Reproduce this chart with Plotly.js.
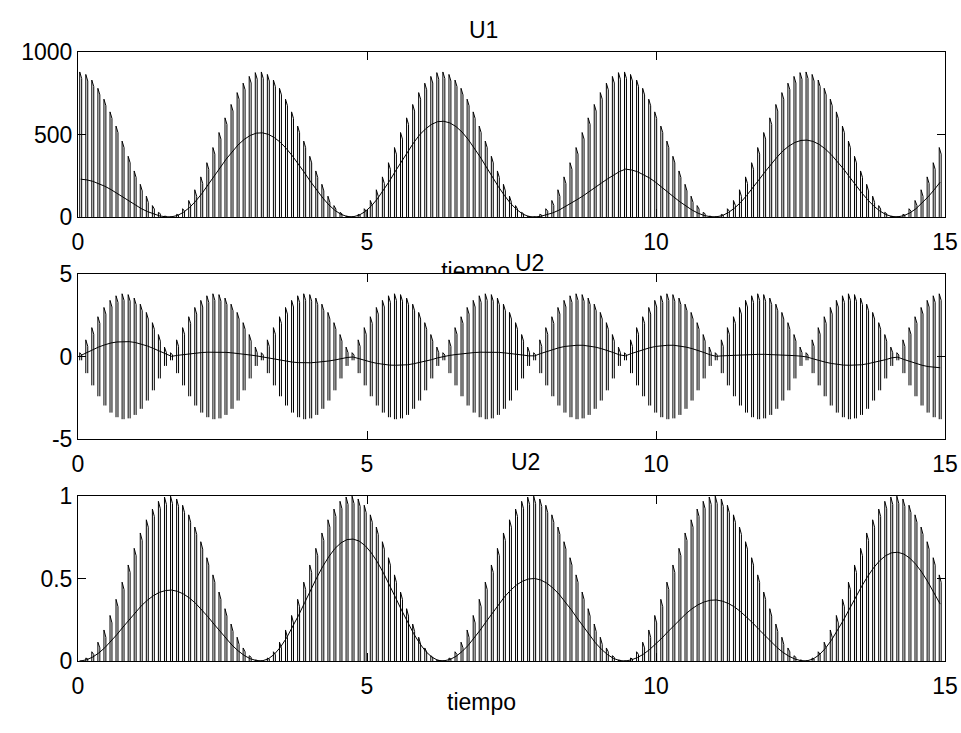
<!DOCTYPE html>
<html>
<head>
<meta charset="utf-8">
<script src="https://cdn.plot.ly/plotly-3.0.1.min.js"></script>
<style>html,body{margin:0;padding:0;background:#fff;}#chart{width:961px;height:733px;}</style>
</head>
<body>
<div id="chart"></div>
<script>
// sample times (s)
const t = [0.030,0.135,0.239,0.344,0.449,0.554,0.658,0.763,0.868,0.972,
1.077,1.182,1.287,1.391,1.496,1.601,1.706,1.810,1.915,2.020,
2.124,2.229,2.334,2.439,2.543,2.648,2.753,2.857,2.962,3.067,
3.172,3.276,3.381,3.486,3.590,3.695,3.800,3.905,4.009,4.114,
4.219,4.324,4.428,4.533,4.638,4.742,4.847,4.952,5.057,5.161,
5.266,5.371,5.475,5.580,5.685,5.790,5.894,5.999,6.104,6.208,
6.313,6.418,6.523,6.627,6.732,6.837,6.941,7.046,7.151,7.256,
7.360,7.465,7.570,7.675,7.779,7.884,7.989,8.093,8.198,8.303,
8.408,8.512,8.617,8.722,8.826,8.931,9.036,9.141,9.245,9.350,
9.455,9.559,9.664,9.769,9.874,9.978,10.083,10.188,10.292,10.397,
10.502,10.607,10.711,10.816,10.921,11.025,11.130,11.235,11.340,11.444,
11.549,11.654,11.759,11.863,11.968,12.073,12.177,12.282,12.387,12.492,
12.596,12.701,12.806,12.910,13.015,13.120,13.225,13.329,13.434,13.539,
13.644,13.748,13.853,13.958,14.062,14.167,14.272,14.377,14.481,14.586,
14.691,14.796,14.900];

// U1: peak value of each oscillation and the inner (aliased) level
const u1Top = [879,864,830,780,714,637,551,460,368,279,198,126,69,28,5,1,16,50,100,165,243,329,421,512,601,682,754,811,852,875,
879,864,830,780,714,637,551,460,368,279,198,126,69,28,5,1,16,50,100,165,243,329,421,512,601,682,754,811,852,875,
879,864,830,780,714,637,551,460,368,279,198,126,69,28,5,1,16,50,100,165,243,329,421,512,601,682,754,811,852,875,
879,864,830,780,714,637,551,460,368,279,198,126,69,28,5,1,16,50,100,165,243,329,421,512,601,682,754,811,852,875,
879,864,830,780,714,637,551,460,368,279,198,126,69,28,5,1,16,50,100,165,243,329,421];
const u1Mid = [229,225,216,203,186,166,143,120,96,73,51,33,18,7,1,
1,9,29,58,96,141,191,244,297,349,396,437,470,494,508,
510,501,481,452,414,369,320,267,213,162,115,73,40,16,3,
1,11,33,66,109,160,217,278,338,397,450,498,535,562,578,
580,570,548,515,471,420,364,304,243,184,131,83,46,18,3,
0,4,13,25,41,61,82,105,128,155,180,205,230,255,275,
290,285,274,257,236,210,182,152,121,92,65,42,23,9,2,
1,8,27,53,87,129,174,223,271,319,361,400,430,452,464,
466,458,440,413,378,338,292,244,195,148,105,67,37,15,3,
1,8,25,50,83,122,165,211];

// U2 (middle panel): oscillation amplitude and inner level
const u2Amp = [0.23,1.01,1.75,2.41,2.97,3.40,3.68,3.80,3.75,3.54,3.17,2.67,2.05,1.33,0.57,
0.23,1.01,1.75,2.41,2.97,3.40,3.68,3.80,3.75,3.54,3.17,2.67,2.05,1.33,0.57,
0.23,1.01,1.75,2.41,2.97,3.40,3.68,3.80,3.75,3.54,3.17,2.67,2.05,1.33,0.57,
0.23,1.01,1.75,2.41,2.97,3.40,3.68,3.80,3.75,3.54,3.17,2.67,2.05,1.33,0.57,
0.23,1.01,1.75,2.41,2.97,3.40,3.68,3.80,3.75,3.54,3.17,2.67,2.05,1.33,0.57,
0.23,1.01,1.75,2.41,2.97,3.40,3.68,3.80,3.75,3.54,3.17,2.67,2.05,1.33,0.57,
0.23,1.01,1.75,2.41,2.97,3.40,3.68,3.80,3.75,3.54,3.17,2.67,2.05,1.33,0.57,
0.23,1.01,1.75,2.41,2.97,3.40,3.68,3.80,3.75,3.54,3.17,2.67,2.05,1.33,0.57,
0.23,1.01,1.75,2.41,2.97,3.40,3.68,3.80,3.75,3.54,3.17,2.67,2.05,1.33,0.57,
0.23,1.01,1.75,2.41,2.97,3.40,3.68,3.80];
const u2Mid = [0.06,0.24,0.42,0.58,0.71,0.82,0.88,0.91,0.90,0.85,0.76,0.64,0.49,0.32,0.14,
0.01,0.07,0.12,0.17,0.21,0.24,0.26,0.27,0.26,0.25,0.22,0.19,0.14,0.09,0.04,
-0.02,-0.10,-0.18,-0.24,-0.30,-0.34,-0.37,-0.38,-0.38,-0.35,-0.32,-0.27,-0.21,-0.13,-0.06,
-0.03,-0.14,-0.25,-0.34,-0.42,-0.48,-0.52,-0.53,-0.53,-0.50,-0.44,-0.37,-0.29,-0.19,-0.08,
0.01,0.07,0.12,0.17,0.21,0.24,0.26,0.27,0.26,0.25,0.22,0.19,0.14,0.09,0.04,
0.04,0.18,0.31,0.43,0.53,0.61,0.66,0.68,0.68,0.64,0.57,0.48,0.37,0.24,0.10,
0.04,0.18,0.31,0.43,0.53,0.61,0.66,0.68,0.68,0.64,0.57,0.48,0.37,0.24,0.10,
0.01,0.04,0.06,0.08,0.10,0.12,0.13,0.13,0.13,0.12,0.11,0.09,0.07,0.05,0.02,
-0.03,-0.14,-0.25,-0.34,-0.42,-0.48,-0.52,-0.53,-0.53,-0.50,-0.44,-0.37,-0.29,-0.19,-0.08,
-0.04,-0.18,-0.31,-0.43,-0.53,-0.61,-0.66,-0.68];

// U2 (bottom panel): peak value of each oscillation and inner level
const u3Top = [0.001,0.018,0.056,0.114,0.188,0.276,0.374,0.478,0.582,0.683,0.776,0.856,0.921,0.968,0.994,0.999,0.982,0.944,0.886,0.812,0.723,0.626,0.522,0.418,0.317,0.224,0.144,0.079,0.032,0.006,
0.001,0.018,0.056,0.114,0.188,0.276,0.374,0.478,0.582,0.683,0.776,0.856,0.921,0.968,0.994,0.999,0.982,0.944,0.886,0.812,0.723,0.626,0.522,0.418,0.317,0.224,0.144,0.079,0.032,0.006,
0.001,0.018,0.056,0.114,0.188,0.276,0.374,0.478,0.582,0.683,0.776,0.856,0.921,0.968,0.994,0.999,0.982,0.944,0.886,0.812,0.723,0.626,0.522,0.418,0.317,0.224,0.144,0.079,0.032,0.006,
0.001,0.018,0.056,0.114,0.188,0.276,0.374,0.478,0.582,0.683,0.776,0.856,0.921,0.968,0.994,0.999,0.982,0.944,0.886,0.812,0.723,0.626,0.522,0.418,0.317,0.224,0.144,0.079,0.032,0.006,
0.001,0.018,0.056,0.114,0.188,0.276,0.374,0.478,0.582,0.683,0.776,0.856,0.921,0.968,0.994,0.999,0.982,0.944,0.886,0.812,0.723,0.626,0.522];
const u3Mid = [0.000,0.008,0.024,0.049,0.081,0.119,0.161,0.206,0.250,0.294,0.334,0.368,0.396,0.416,0.427,0.430,0.422,0.406,0.381,0.349,0.311,0.269,0.224,0.180,0.136,0.096,0.062,0.034,0.014,0.003,
0.001,0.013,0.041,0.084,0.139,0.204,0.277,0.354,0.431,0.505,0.574,0.633,0.682,0.716,0.736,0.739,0.727,0.699,0.656,0.601,0.535,0.463,0.386,0.309,0.235,0.166,0.107,0.058,0.024,0.004,
0.001,0.009,0.028,0.057,0.094,0.138,0.187,0.239,0.291,0.342,0.388,0.428,0.461,0.484,0.497,0.500,0.491,0.472,0.443,0.406,0.362,0.313,0.261,0.209,0.159,0.112,0.072,0.040,0.016,0.003,
0.000,0.007,0.021,0.042,0.070,0.102,0.138,0.177,0.215,0.253,0.287,0.317,0.341,0.358,0.368,0.370,0.363,0.349,0.328,0.300,0.268,0.232,0.193,0.155,0.117,0.083,0.053,0.029,0.012,0.002,
0.001,0.012,0.037,0.075,0.124,0.182,0.247,0.315,0.384,0.451,0.512,0.565,0.608,0.639,0.656,0.659,0.648,0.623,0.585,0.536,0.477,0.413,0.345];

const titles = ['U1', 'U2', 'U2'];
const xLabel = 'tiempo';
const xTicks = [0, 5, 10, 15];

// ---- build polylines from the data ----
// each oscillation: up-stroke to its peak, slanted tip, parallel down-stroke (separate per oscillation)
const dt = t[1] - t[0];
function strokes(top, symmetric, tip) {
  const x = [], y = [];
  const n = Math.min(t.length, top.length);
  for (let k = 0; k < n; k++) {
    const lo = symmetric ? -top[k] : 0;
    const tp = top[k] - Math.min(tip, (top[k] - lo) * 0.3);
    x.push(t[k], t[k], t[k] + 0.32 * dt, t[k] + 0.32 * dt, null);
    y.push(lo, top[k], tp, lo, null);
  }
  return {x, y};
}
// inner level, drawn through the middle of each oscillation
function inner(mid) {
  const n = Math.min(t.length, mid.length);
  return {x: t.slice(0, n).map(v => v + 0.16 * dt), y: mid.slice(0, n)};
}
const s1 = strokes(u1Top, false, 40), m1 = inner(u1Mid);
const s2 = strokes(u2Amp, true, 0.4), m2 = inner(u2Mid);
const s3 = strokes(u3Top, false, 0.045), m3 = inner(u3Mid);
const lineStyle = {color: '#000', width: 1};
const innerStyle = {color: '#000', width: 1};
const fam = 'Liberation Sans, Arial, Helvetica, sans-serif';
const font = {family: fam, size: 23, color: '#000'};
function tr(s, xa, ya, st) {
  return {type: 'scatter', mode: 'lines', x: s.x, y: s.y, xaxis: xa, yaxis: ya, line: st,
    connectgaps: false, hoverinfo: 'skip'};
}
const traces = [
  tr(s1, 'x', 'y', lineStyle), tr(m1, 'x', 'y', innerStyle),
  tr(s2, 'x2', 'y2', lineStyle), tr(m2, 'x2', 'y2', innerStyle),
  tr(s3, 'x3', 'y3', lineStyle), tr(m3, 'x3', 'y3', innerStyle),
  // x label of top panel, partially hidden by the middle panel (clipped)
  {type: 'scatter', mode: 'text', x: [6.88], y: [0.5], text: [xLabel], xaxis: 'x4', yaxis: 'y4',
   textfont: font, textposition: 'middle center', cliponaxis: true, hoverinfo: 'skip'}
];

function xax(anchor) {
  return {anchor: anchor, domain: [0, 1], range: [0, 15], tickvals: xTicks, ticktext: xTicks.map(String),
    showline: true, mirror: 'ticks', linecolor: '#000', linewidth: 1, ticks: 'inside', ticklen: 8,
    tickcolor: '#000', showgrid: false, zeroline: false, tickfont: font, ticklabelstandoff: 4, fixedrange: true};
}
function yax(anchor, dom, rng, vals, txt) {
  return {anchor: anchor, domain: dom, range: rng, tickvals: vals, ticktext: txt,
    showline: true, mirror: 'ticks', linecolor: '#000', linewidth: 1, ticks: 'inside', ticklen: 8,
    tickcolor: '#000', showgrid: false, zeroline: false, tickfont: font, fixedrange: true};
}

const layout = {
  width: 961, height: 733, autosize: false,
  margin: {l: 78, r: 16, t: 52, b: 72, pad: 0},
  paper_bgcolor: '#fff', plot_bgcolor: '#fff',
  showlegend: false, font: font,
  xaxis: xax('y'),
  yaxis: yax('x', [0.7291, 1], [0, 1000], [0, 500, 1000], ['0', '500', '1000']),
  xaxis2: xax('y2'),
  yaxis2: yax('x2', [0.3645, 0.6355], [-5, 5], [-5, 0, 5], ['-5', '0', '5']),
  xaxis3: xax('y3'),
  yaxis3: yax('x3', [0, 0.2709], [0, 1], [0, 0.5, 1], ['0', '0.5', '1']),
  xaxis4: {anchor: 'y4', domain: [0, 1], range: [0, 15], visible: false, fixedrange: true},
  yaxis4: {anchor: 'x4', domain: [0.6355, 0.7291], range: [0, 57], visible: false, fixedrange: true},
  annotations: [
    {text: titles[0], xref: 'paper', yref: 'paper', x: 0.468, y: 1.036, showarrow: false, font: font, xanchor: 'center', yanchor: 'middle'},
    {text: titles[1], xref: 'paper', yref: 'paper', x: 0.521, y: 0.6535, showarrow: false, font: font, xanchor: 'center', yanchor: 'middle'},
    {text: titles[2], xref: 'paper', yref: 'paper', x: 0.5156, y: 0.3268, showarrow: false, font: font, xanchor: 'center', yanchor: 'middle'},
    {text: xLabel, xref: 'paper', yref: 'paper', x: 0.4655, y: -0.068, showarrow: false, font: font, xanchor: 'center', yanchor: 'middle'}
  ]
};
Plotly.newPlot('chart', traces, layout, {staticPlot: true, displayModeBar: false});
</script>
</body>
</html>
